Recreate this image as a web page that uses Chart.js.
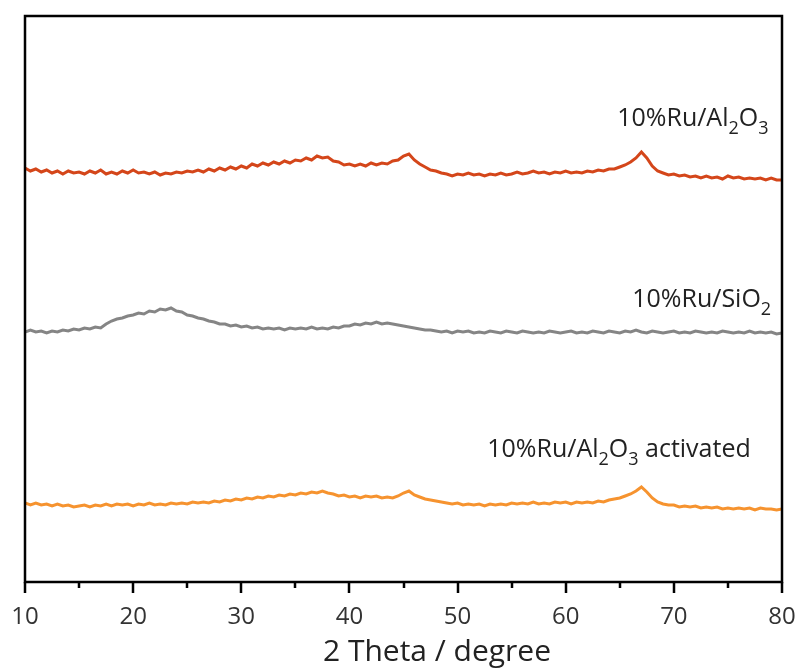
<!DOCTYPE html>
<html>
<head>
<meta charset="utf-8">
<script src="https://cdn.jsdelivr.net/npm/chart.js@4.4.1/dist/chart.umd.min.js"></script>
<style>
  html, body { margin: 0; padding: 0; background: #ffffff; }
  #wrap { width: 799px; height: 669px; position: relative; }
</style>
</head>
<body>
<div id="wrap"><canvas id="c" width="799" height="669"></canvas></div>
<script>
// 2θ positions (degree)
const twoTheta = [
10,10.5,11,11.5,12,12.5,13,13.5,14,14.5,15,15.5,16,16.5,17,17.5,18,18.5,19,19.5,
20,20.5,21,21.5,22,22.5,23,23.5,24,24.5,25,25.5,26,26.5,27,27.5,28,28.5,29,29.5,
30,30.5,31,31.5,32,32.5,33,33.5,34,34.5,35,35.5,36,36.5,37,37.5,38,38.5,39,39.5,
40,40.5,41,41.5,42,42.5,43,43.5,44,44.5,45,45.5,46,46.5,47,47.5,48,48.5,49,49.5,
50,50.5,51,51.5,52,52.5,53,53.5,54,54.5,55,55.5,56,56.5,57,57.5,58,58.5,59,59.5,
60,60.5,61,61.5,62,62.5,63,63.5,64,64.5,65,65.5,66,66.5,67,67.5,68,68.5,69,69.5,
70,70.5,71,71.5,72,72.5,73,73.5,74,74.5,75,75.5,76,76.5,77,77.5,78,78.5,79,79.5,80];

// Intensities (a.u., offset-stacked as in the figure)
const ruAl2O3 = [
414,411,413,410,412,409,411,408,411,409,410,408,411,409,412,408,410,408,411,409,
412,409,410,408,410,407,409,408,410,409,411,410,412,410,413,411,414,412,415,413,
416,414,418,416,419,417,420,418,421,419,422,421,424,422,426,424,425,421,420,417,
418,416,418,416,419,417,419,418,421,422,426,428,422,418,415,412,411,409,408,406,
408,407,409,407,408,406,408,407,409,407,408,410,408,409,411,409,410,408,410,409,
411,409,410,409,411,410,412,411,413,413,415,417,420,424,430,424,416,411,409,407,
408,406,407,405,406,404,406,404,405,403,406,404,405,403,404,403,404,402,404,402,402];

const ruSiO2 = [
250,252,250,251,249,251,250,252,251,253,252,254,253,255,254,258,261,263,264,266,
267,269,268,271,270,273,272,274,271,270,267,266,264,263,261,260,258,258,256,257,
255,256,254,255,253,254,253,254,252,254,253,254,253,255,253,254,253,255,254,256,
256,258,257,259,258,260,258,259,258,257,256,255,254,253,252,252,251,250,251,249,
251,250,251,249,250,249,251,250,249,251,250,249,251,250,249,250,249,251,250,249,
250,251,249,250,249,251,250,249,251,250,249,251,250,252,250,249,251,250,249,250,
251,249,250,249,251,250,249,250,249,251,250,249,250,249,251,249,250,249,250,248,249];

const ruAl2O3Act = [
79,77,79,77,78,76,78,76,77,75,76,77,75,77,76,78,76,78,77,78,
76,78,77,79,77,78,77,79,78,79,78,80,79,80,79,81,80,82,81,83,
82,84,83,85,84,86,85,87,86,88,87,89,88,90,89,91,89,88,86,87,
85,86,84,86,85,86,84,85,84,86,89,91,87,85,83,82,81,80,79,78,
79,77,78,77,78,76,78,77,78,77,79,78,79,78,80,78,79,78,80,79,
80,78,80,79,80,79,81,80,82,83,84,86,88,91,95,90,84,80,78,77,
77,75,76,75,76,74,75,74,75,73,74,73,74,73,74,72,74,73,73,72,73];

const xTicks = [10, 20, 30, 40, 50, 60, 70, 80];
const xMinorTicks = [15, 25, 35, 45, 55, 65, 75];

const seriesNames = ['10%Ru/Al2O3', '10%Ru/SiO2', '10%Ru/Al2O3 activated'];
const seriesColors = ['#D4461A', '#858585', '#F6932F'];

const toXY = arr => arr.map((v, i) => ({ x: twoTheta[i], y: v }));

const FONT = '"Open Sans", "DejaVu Sans", sans-serif';

// Series labels with subscripts: [parts], anchor (deg, intensity)
const labelParts = [
  { parts: [['10%Ru/Al', 0], ['2', 1], ['O', 0], ['3', 1]], at: [64.76, 456] },
  { parts: [['10%Ru/SiO', 0], ['2', 1]], at: [66.15, 275] },
  { parts: [['10%Ru/Al', 0], ['2', 1], ['O', 0], ['3', 1], [' activated', 0]], at: [52.74, 125] }
];

const decorPlugin = {
  id: 'decor',
  afterDraw(chart) {
    const ctx = chart.ctx;
    const a = chart.chartArea;
    const xs = chart.scales.x;
    const ys = chart.scales.y;
    ctx.save();
    // frame
    ctx.strokeStyle = '#000';
    ctx.lineWidth = 2.5;
    ctx.strokeRect(a.left, a.top, a.right - a.left, a.bottom - a.top);
    // major ticks
    ctx.beginPath();
    xTicks.forEach(t => {
      const px = Math.round(xs.getPixelForValue(t));
      ctx.moveTo(px, a.bottom);
      ctx.lineTo(px, a.bottom + 11);
    });
    // minor ticks
    xMinorTicks.forEach(t => {
      const px = Math.round(xs.getPixelForValue(t));
      ctx.moveTo(px, a.bottom);
      ctx.lineTo(px, a.bottom + 6);
    });
    ctx.stroke();
    // axis title
    ctx.fillStyle = '#222';
    ctx.font = '30px ' + FONT;
    ctx.textAlign = 'center';
    ctx.textBaseline = 'alphabetic';
    ctx.fillText('2 Theta / degree', 437, 661);
    // series labels
    ctx.textAlign = 'left';
    labelParts.forEach(lb => {
      let x = xs.getPixelForValue(lb.at[0]);
      const y = ys.getPixelForValue(lb.at[1]);
      lb.parts.forEach(([t, sub]) => {
        ctx.font = (sub ? '18px ' : '25px ') + FONT;
        ctx.fillText(t, x, sub ? y + 8 : y);
        x += ctx.measureText(t).width;
      });
    });
    ctx.restore();
  }
};

new Chart(document.getElementById('c'), {
  type: 'line',
  data: {
    datasets: [
      { label: seriesNames[0], data: toXY(ruAl2O3), borderColor: seriesColors[0] },
      { label: seriesNames[1], data: toXY(ruSiO2), borderColor: seriesColors[1] },
      { label: seriesNames[2], data: toXY(ruAl2O3Act), borderColor: seriesColors[2] }
    ].map(d => Object.assign(d, { borderWidth: 3, pointRadius: 0, tension: 0, fill: false }))
  },
  options: {
    responsive: false,
    animation: false,
    layout: { padding: { left: 25, right: 17, top: 16, bottom: 0 } },
    plugins: { legend: { display: false }, tooltip: { enabled: false }, title: { display: false } },
    scales: {
      x: {
        type: 'linear',
        min: 10, max: 80,
        border: { display: false },
        grid: { display: false, drawTicks: false },
        ticks: {
          stepSize: 10,
          padding: 21,
          color: '#333',
          font: { family: FONT, size: 24 },
          maxRotation: 0,
          autoSkip: false
        },
        afterFit(s) { s.height = 87; s.paddingLeft = 0; s.paddingRight = 0; }
      },
      y: {
        display: false,
        min: 0, max: 566
      }
    }
  },
  plugins: [decorPlugin]
});
</script>
</body>
</html>
